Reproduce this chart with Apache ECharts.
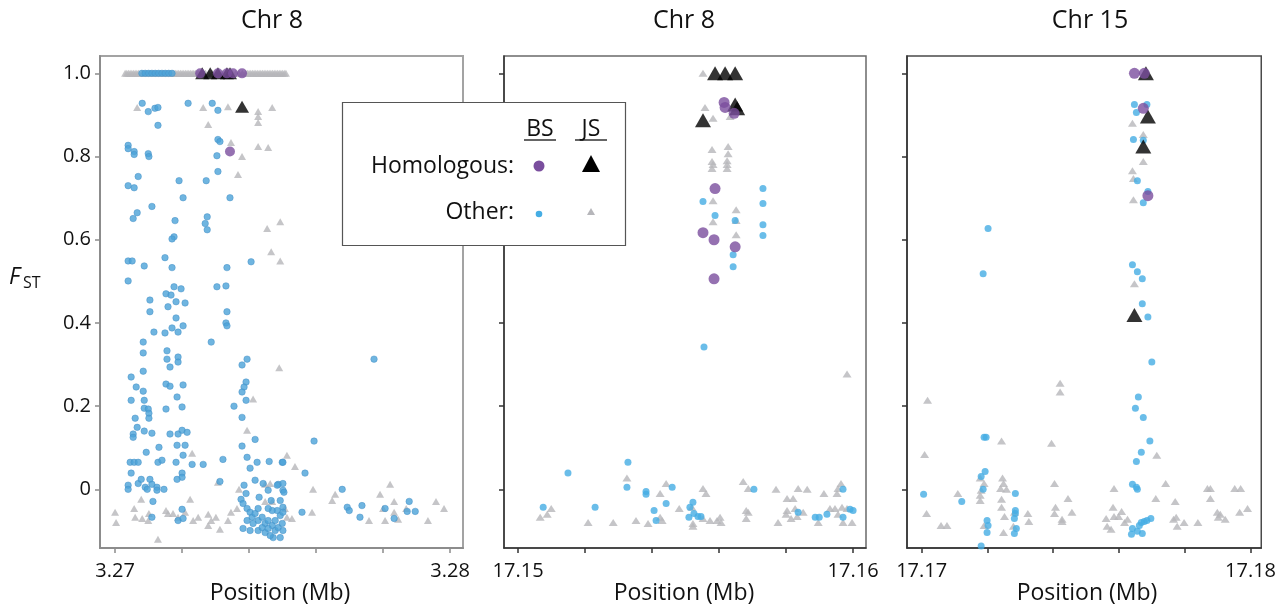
<!DOCTYPE html>
<html>
<head>
<meta charset="utf-8">
<script src="https://cdn.jsdelivr.net/npm/echarts@6/dist/echarts.min.js"></script>
<style>
html,body{margin:0;padding:0;background:#fff;}
#chart{width:1279px;height:608px;}
</style>
</head>
<body>
<div id="chart"></div>
<script>
// ---------- Titles & ticks ----------
const panelTitles = ['Chr 8', 'Chr 8', 'Chr 15'];
const xAxisName = 'Position (Mb)';
const yTicks = [0, 0.2, 0.4, 0.6, 0.8, 1.0];
const xTicks1 = [3.270, 3.272, 3.274, 3.276, 3.278, 3.280];
const xLabels1 = [3.27, 3.28];
const xTicks2 = [17.150, 17.152, 17.154, 17.156, 17.158, 17.160];
const xLabels2 = [17.15, 17.16];
const xTicks3 = [17.170, 17.172, 17.174, 17.176, 17.178, 17.180];
const xLabels3 = [17.17, 17.18];

// ---------- Panel 1 (Chr 8, 3.27 Mb) ----------
const p1BSOther = [
 [3.27080,1.0],[3.27090,1.0],[3.27100,1.0],[3.27110,1.0],[3.27120,1.0],[3.27130,1.0],[3.27140,1.0],[3.27150,1.0],[3.27160,1.0],[3.27170,1.0],
 [3.27081,0.928],[3.27099,0.908],[3.27119,0.916],[3.27128,0.918],[3.27128,0.875],[3.27218,0.928],[3.27290,0.928],[3.27307,0.911],
 [3.27307,0.841],[3.27313,0.836],[3.27039,0.827],[3.27039,0.819],[3.27057,0.812],[3.27057,0.805],[3.27099,0.807],[3.27101,0.800],
 [3.27304,0.802],[3.27307,0.764],[3.27069,0.752],[3.27039,0.730],[3.27057,0.725],[3.27191,0.742],[3.27272,0.742],[3.27203,0.701],
 [3.27343,0.701],[3.27110,0.680],[3.27066,0.665],[3.27054,0.651],[3.27179,0.646],[3.27275,0.655],[3.27269,0.639],[3.27275,0.624],
 [3.27176,0.607],[3.27170,0.602],[3.27039,0.549],[3.27051,0.549],[3.27087,0.537],[3.27149,0.557],[3.27170,0.533],[3.27334,0.533],
 [3.27406,0.547],[3.27039,0.501],[3.27176,0.487],[3.27197,0.482],[3.27304,0.487],[3.27331,0.489],[3.27152,0.470],[3.27167,0.467],
 [3.27104,0.455],[3.27182,0.451],[3.27209,0.448],
 [3.27158,0.439],[3.27104,0.427],[3.27182,0.412],[3.27203,0.393],[3.27170,0.388],[3.27188,0.378],[3.27149,0.376],[3.27116,0.378],
 [3.27334,0.427],[3.27331,0.400],[3.27334,0.393],[3.27287,0.354],[3.27084,0.354],[3.27084,0.328],[3.27155,0.333],[3.27155,0.313],
 [3.27188,0.318],[3.27188,0.306],[3.27164,0.294],[3.27084,0.284],[3.27048,0.270],[3.27379,0.299],[3.27394,0.313],[3.27063,0.246],
 [3.27084,0.236],[3.27152,0.253],[3.27164,0.248],[3.27203,0.251],[3.27185,0.222],[3.27200,0.198],[3.27048,0.214],[3.27087,0.214],
 [3.27087,0.195],[3.27099,0.193],[3.27101,0.183],[3.27152,0.193],[3.27391,0.258],[3.27385,0.246],[3.27379,0.234],[3.27391,0.214],
 [3.27355,0.200],[3.27379,0.173],[3.27060,0.171],[3.27101,0.171],[3.27066,0.149],[3.27087,0.140],[3.27110,0.135],[3.27054,0.133],
 [3.27054,0.125],[3.27164,0.133],[3.27188,0.133],[3.27200,0.142],[3.27215,0.137],[3.27379,0.104],[3.27418,0.120],[3.27131,0.101],
 [3.27185,0.106],[3.27209,0.106],[3.27093,0.089],[3.27203,0.082],[3.27045,0.065],[3.27057,0.065],[3.27069,0.065],[3.27128,0.065],
 [3.27140,0.070],[3.27182,0.065],[3.27230,0.060],[3.27263,0.060],[3.27322,0.072],[3.27394,0.077],[3.27424,0.065],[3.27403,0.051],
 [3.27460,0.067],[3.27499,0.065],[3.27048,0.039],[3.27200,0.039],[3.27200,0.029],[3.27185,0.024],[3.27313,0.019],[3.27039,0.010],
 [3.27039,0.000],[3.27069,0.014],[3.27078,0.024],[3.27090,0.005],[3.27104,0.024],[3.27110,0.012],[3.27096,0.000],[3.27125,0.005],
 [3.27125,-0.002],[3.27146,0.000],[3.27385,0.010],[3.27418,0.022],[3.27442,0.014],[3.27487,0.012],[3.27457,-0.002],[3.27501,-0.002],
 [3.27391,-0.010],[3.27376,-0.024],[3.27430,-0.019],[3.27466,-0.027],[3.27493,-0.027],[3.27113,-0.029],[3.27110,-0.067],[3.27200,-0.048],
 [3.27188,-0.075],[3.27203,-0.070],
 [3.27382,-0.034],[3.27394,-0.046],[3.27403,-0.055],[3.27409,-0.067],[3.27418,-0.058],[3.27427,-0.075],[3.27439,-0.067],[3.27448,-0.082],
 [3.27457,-0.075],[3.27469,-0.087],[3.27478,-0.099],[3.27487,-0.092],[3.27499,-0.082],[3.27484,-0.051],[3.27469,-0.051],[3.27382,-0.094],
 [3.27403,-0.099],[3.27427,-0.099],[3.27448,-0.104],[3.27472,-0.116],[3.27394,-0.075],[3.27412,-0.082],[3.27439,-0.092],[3.27457,-0.094],
 [3.27478,-0.075],[3.27493,-0.063],[3.27501,-0.043],[3.27457,-0.046],[3.27427,-0.046],[3.27463,-0.111],[3.27501,-0.099],[3.27493,-0.116],
 [3.27773,0.313],[3.27594,0.116],[3.27501,0.065],[3.27567,0.039],[3.27501,0.014],[3.27504,-0.007],[3.27484,0.010],[3.27678,0.000],
 [3.27693,-0.043],[3.27699,-0.051],[3.27737,-0.039],[3.27731,-0.067],[3.27806,-0.046],[3.27833,-0.070],[3.27872,-0.053],[3.27878,-0.029],
 [3.27896,-0.053],[3.27558,-0.055],[3.27501,-0.055]
];
const p1JSOther = [
 [3.2703,1.0],[3.27035,1.0],[3.2704,1.0],[3.27045,1.0],[3.2705,1.0],[3.27055,1.0],[3.2706,1.0],[3.27065,1.0],[3.2707,1.0],[3.2708,1.0],
 [3.2709,1.0],[3.2710,1.0],[3.2711,1.0],[3.2712,1.0],[3.2713,1.0],[3.2714,1.0],[3.2715,1.0],[3.2716,1.0],[3.2717,1.0],[3.27175,1.0],
 [3.2718,1.0],[3.27185,1.0],[3.2719,1.0],[3.27195,1.0],[3.2720,1.0],[3.27205,1.0],[3.2721,1.0],[3.27215,1.0],[3.2722,1.0],[3.27225,1.0],
 [3.2723,1.0],[3.27235,1.0],[3.2724,1.0],[3.27245,1.0],[3.2725,1.0],[3.2726,1.0],[3.2727,1.0],[3.2728,1.0],[3.2729,1.0],[3.2730,1.0],
 [3.2731,1.0],[3.2732,1.0],[3.2733,1.0],[3.2734,1.0],[3.2735,1.0],[3.2736,1.0],[3.2737,1.0],[3.2738,1.0],[3.2739,1.0],[3.27395,1.0],
 [3.2740,1.0],[3.27405,1.0],[3.2741,1.0],[3.27415,1.0],[3.2742,1.0],[3.27425,1.0],[3.2743,1.0],[3.27435,1.0],[3.2744,1.0],[3.27445,1.0],
 [3.2745,1.0],[3.27455,1.0],[3.2746,1.0],[3.27465,1.0],[3.2747,1.0],[3.27475,1.0],[3.2748,1.0],[3.27485,1.0],[3.2749,1.0],[3.27495,1.0],
 [3.2750,1.0],[3.27505,1.0],[3.2751,1.0],
 [3.27066,0.918],[3.27263,0.918],[3.27337,0.920],[3.27427,0.908],[3.27427,0.896],[3.27427,0.882],[3.27469,0.918],[3.27278,0.877],
 [3.27346,0.834],[3.27379,0.800],[3.27427,0.824],[3.27457,0.822],[3.27367,0.757],[3.27454,0.627],[3.27493,0.643],[3.27466,0.571],
 [3.27493,0.549],[3.27490,0.292],[3.27412,0.217],[3.27394,0.142],[3.27230,0.087],[3.27307,0.017],[3.27370,0.000],[3.27448,0.012],
 [3.27463,0.014],[3.27078,-0.024],[3.27224,-0.024],[3.27448,-0.029],[3.27469,-0.029],[3.27000,-0.055],[3.27003,-0.080],[3.27057,-0.046],
 [3.27060,-0.067],[3.27081,-0.070],[3.27099,-0.075],[3.27101,-0.058],[3.27152,-0.051],[3.27158,-0.058],[3.27173,-0.058],[3.27188,-0.067],
 [3.27209,-0.055],[3.27233,-0.075],[3.27248,-0.067],[3.27278,-0.060],[3.27287,-0.075],[3.27301,-0.067],[3.27313,-0.096],[3.27337,-0.075],
 [3.27346,-0.055],[3.27364,-0.046],[3.27278,-0.087],[3.27128,-0.120],[3.27513,0.082],[3.27537,0.055],[3.27591,0.000],[3.27648,-0.027],
 [3.27657,-0.012],[3.27821,0.012],[3.27791,-0.012],[3.27833,-0.029],[3.27800,-0.046],[3.27758,-0.075],[3.27806,-0.075],[3.27845,-0.072],
 [3.27833,-0.055],[3.27869,-0.046],[3.27958,-0.029],[3.27982,-0.046],[3.27934,-0.075],[3.27588,-0.055],[3.27513,-0.067],[3.27528,-0.070],
 [3.27507,-0.046]
];
const p1BSHomologous = [[3.27254,1.0],[3.27307,1.0],[3.27334,1.0],[3.27352,1.0],[3.27379,1.0],[3.27343,0.812]];
const p1JSHomologous = [[3.27260,1.0],[3.27284,1.0],[3.27307,1.0],[3.27334,1.0],[3.27343,1.0],[3.27379,0.920]];

// ---------- Panel 2 (Chr 8, 17.15 Mb) ----------
const p2BSOther = [
 [17.15552,0.692],[17.15588,0.658],[17.15648,0.646],[17.15642,0.564],[17.15642,0.535],[17.15731,0.723],[17.15731,0.687],[17.15731,0.636],
 [17.15731,0.610],[17.15555,0.342],[17.15328,0.065],[17.15149,0.039],[17.15325,0.005],[17.15382,-0.005],[17.15382,-0.012],[17.15460,0.005],
 [17.15075,-0.043],[17.15230,-0.043],[17.15442,-0.034],[17.15406,-0.051],[17.15412,-0.075],[17.15522,-0.031],[17.15513,-0.043],[17.15510,-0.067],
 [17.15525,-0.058],[17.15537,-0.065],[17.15546,-0.065],[17.15704,0.000],[17.15970,0.000],[17.15836,-0.055],[17.15887,-0.067],[17.15899,-0.067],
 [17.15922,-0.060],[17.15970,-0.067],[17.15991,-0.048],[17.16000,-0.051]
];
const p2JSOther = [
 [17.15552,1.0],[17.15558,0.918],[17.15582,0.892],[17.15633,0.896],[17.15579,0.817],[17.15579,0.788],[17.15579,0.771],[17.15582,0.781],
 [17.15627,0.824],[17.15627,0.807],[17.15624,0.790],[17.15624,0.771],[17.15624,0.781],[17.15582,0.694],[17.15582,0.643],[17.15651,0.672],
 [17.15651,0.646],[17.15651,0.612],[17.15982,0.277],[17.15066,-0.067],[17.15087,-0.060],[17.15099,-0.046],[17.15209,-0.080],[17.15284,-0.080],
 [17.15325,0.027],[17.15352,-0.075],[17.15388,-0.082],[17.15424,-0.010],[17.15442,0.014],[17.15424,-0.067],[17.15430,-0.075],[17.15481,-0.046],
 [17.15519,-0.043],[17.15522,-0.082],[17.15522,-0.089],[17.15552,0.002],[17.15561,-0.010],[17.15552,-0.070],[17.15573,-0.075],[17.15594,-0.075],
 [17.15603,-0.067],[17.15606,-0.080],[17.15672,0.019],[17.15687,0.002],[17.15681,-0.051],[17.15687,-0.055],[17.15681,-0.070],[17.15770,0.000],
 [17.15776,-0.080],[17.15803,-0.022],[17.15821,-0.022],[17.15803,-0.051],[17.15800,-0.060],[17.15815,-0.070],[17.15827,-0.046],[17.15833,-0.065],
 [17.15836,0.002],[17.15851,-0.055],[17.15863,0.000],[17.15896,-0.080],[17.15913,-0.010],[17.15931,-0.046],[17.15946,-0.046],[17.15952,-0.010],
 [17.15955,0.002],[17.15964,0.014],[17.15967,-0.043],[17.15955,-0.060],[17.15970,-0.080],[17.15982,-0.046],[17.15997,-0.080]
];
const p2BSHomologous = [[17.15615,0.930],[17.15618,0.918],[17.15645,0.904],[17.15588,0.723],[17.15552,0.617],[17.15585,0.600],[17.15648,0.583],[17.15585,0.506]];
const p2JSHomologous = [[17.15588,1.0],[17.15618,1.0],[17.15648,1.0],[17.15648,0.925],[17.15654,0.916],[17.15552,0.887]];

// ---------- Panel 3 (Chr 15, 17.17 Mb) ----------
const p3BSOther = [
 [17.17647,0.925],[17.17685,0.925],[17.17653,0.906],[17.17644,0.841],[17.17674,0.839],[17.17656,0.742],[17.17688,0.716],[17.17674,0.689],
 [17.17202,0.627],[17.17187,0.518],[17.17641,0.540],[17.17656,0.523],[17.17671,0.506],[17.17671,0.446],[17.17688,0.414],[17.17700,0.306],
 [17.17659,0.222],[17.17650,0.195],[17.17674,0.173],[17.17694,0.116],[17.17668,0.089],[17.17653,0.067],[17.17641,0.012],[17.17653,0.005],
 [17.17656,0.000],[17.17697,-0.070],[17.17685,-0.075],[17.17677,-0.077],[17.17668,-0.080],[17.17662,-0.087],[17.17641,-0.094],[17.17638,-0.108],
 [17.17656,-0.101],[17.17671,-0.106],[17.17190,0.125],[17.17196,0.125],[17.17193,0.043],[17.17181,0.031],[17.17187,0.000],[17.17006,-0.012],
 [17.17122,-0.029],[17.17285,-0.010],[17.17285,-0.051],[17.17282,-0.070],[17.17199,-0.075],[17.17202,-0.087],[17.17199,-0.104],[17.17288,-0.094],
 [17.17282,-0.106],[17.17181,-0.136],[17.17285,-0.058]
];
const p3JSOther = [
 [17.17641,0.880],[17.17674,0.853],[17.17674,0.788],[17.17641,0.766],[17.17644,0.747],[17.17644,0.696],[17.17647,0.494],[17.17018,0.214],
 [17.17009,0.084],[17.17015,-0.058],[17.17059,-0.087],[17.17077,-0.087],[17.17110,-0.010],[17.17178,0.027],[17.17190,0.014],[17.17181,-0.002],
 [17.17178,-0.014],[17.17178,-0.027],[17.17190,-0.087],[17.17243,0.116],[17.17246,0.027],[17.17249,0.014],[17.17240,0.002],[17.17258,0.000],
 [17.17243,-0.024],[17.17243,-0.043],[17.17252,-0.065],[17.17282,-0.055],[17.17279,-0.089],[17.17249,-0.104],[17.17323,-0.058],[17.17326,-0.077],
 [17.17395,0.111],[17.17404,0.014],[17.17421,0.255],[17.17421,0.234],[17.17407,-0.043],[17.17404,-0.058],[17.17427,-0.072],[17.17427,-0.077],
 [17.17445,-0.022],[17.17457,-0.055],[17.17561,-0.070],[17.17564,-0.089],[17.17576,-0.096],[17.17582,-0.043],[17.17585,-0.065],[17.17585,0.002],
 [17.17608,-0.053],[17.17599,-0.065],[17.17617,-0.080],[17.17626,-0.072],[17.17715,0.082],[17.17712,-0.022],[17.17742,0.014],[17.17771,-0.029],
 [17.17766,-0.072],[17.17774,-0.067],[17.17777,-0.089],[17.17798,-0.080],[17.17840,-0.080],[17.17869,0.002],[17.17878,0.002],[17.17878,-0.022],
 [17.17899,-0.055],[17.17902,-0.067],[17.17908,-0.060],[17.17923,-0.072],[17.17952,0.002],[17.17970,0.002],[17.17967,-0.055],[17.17991,-0.046]
];
const p3BSHomologous = [[17.17647,1.0],[17.17677,1.0],[17.17674,0.916],[17.17688,0.706]];
const p3JSHomologous = [[17.17682,1.0],[17.17688,0.896],[17.17674,0.824],[17.17647,0.419]];

// ---------- Legend text ----------
const legendCols = ['BS', 'JS'];
const legendRows = ['Homologous:', 'Other:'];
const yAxisLabelMain = 'F';
const yAxisLabelSub = 'ST';

// ---------- Build chart ----------
const FONT = '"Open Sans", "Noto Sans", sans-serif';
const COL = {blue: '#45ADE4', blue1: '#4BA2D8', grey: '#B6B6BA', purple: '#7A4E9E', black: '#000000'};

const grids = [
  {left: 100, top: 56, width: 363, height: 492, show: true, borderColor: '#a3a3a3', borderWidth: 2, backgroundColor: 'transparent'},
  {left: 504, top: 56, width: 362, height: 492, show: true, borderColor: '#6a6a6a', borderWidth: 1.5, backgroundColor: 'transparent'},
  {left: 907, top: 56, width: 363, height: 492, show: true, borderColor: '#4a4a4a', borderWidth: 1.5, backgroundColor: 'transparent'}
];
const xRanges = [[3.26955, 3.280386], [17.14958, 17.160386], [17.169555, 17.180327]];
const xTickSets = [xTicks1, xTicks2, xTicks3];
const xLabelSets = [xLabels1, xLabels2, xLabels3];
const axisColors = ['#8c8c8c', '#333333', '#333333'];

const xAxes = xRanges.map((r, i) => ({
  type: 'value', gridIndex: i, min: r[0], max: r[1],
  axisLine: {show: true, onZero: false, lineStyle: {color: axisColors[i], width: i === 0 ? 2 : 1.5}},
  axisTick: {show: true, inside: false, length: 5, customValues: xTickSets[i], lineStyle: {color: axisColors[i], width: 1.5}},
  axisLabel: {show: true, customValues: xLabelSets[i], formatter: v => v.toFixed(2), margin: 13,
              fontSize: 20, fontFamily: FONT, color: '#111'},
  splitLine: {show: false}
}));
const yAxes = [0, 1, 2].map(i => ({
  type: 'value', gridIndex: i, min: -0.141, max: 1.0417,
  axisLine: {show: true, onZero: false, lineStyle: {color: axisColors[i], width: i === 0 ? 2 : 1.5}},
  axisTick: {show: true, inside: false, length: 5, customValues: yTicks, lineStyle: {color: axisColors[i], width: 1.5}},
  axisLabel: {show: i === 0, customValues: yTicks, formatter: v => (v === 0 ? '0' : v.toFixed(1)), margin: 9,
              fontSize: 20, fontFamily: FONT, color: '#111'},
  splitLine: {show: false}
}));

function sc(data, idx, symbol, size, color, z, border) {
  return {
    type: 'scatter', xAxisIndex: idx, yAxisIndex: idx, data: data,
    symbol: symbol, symbolSize: size, z: z, silent: true, animation: false,
    itemStyle: border ? {color: color, borderColor: border, borderWidth: 0.6} : {color: color}
  };
}
const series = [
  sc(p1JSOther, 0, 'triangle', [8, 7], COL.grey, 2),
  sc(p1BSOther, 0, 'circle', 6.5, COL.blue1, 3, '#4590c6'),
  sc(p1JSHomologous, 0, 'triangle', [14, 12], COL.black, 4),
  sc(p1BSHomologous, 0, 'circle', 10, COL.purple, 5),
  sc(p2JSOther, 1, 'triangle', [9, 7], COL.grey, 2),
  sc(p2BSOther, 1, 'circle', 7, COL.blue, 3),
  sc(p2JSHomologous, 1, 'triangle', [16, 14], COL.black, 4),
  sc(p2BSHomologous, 1, 'circle', 11, COL.purple, 5),
  sc(p3JSOther, 2, 'triangle', [9, 7], COL.grey, 2),
  sc(p3BSOther, 2, 'circle', 7, COL.blue, 3),
  sc(p3JSHomologous, 2, 'triangle', [16, 14], COL.black, 4),
  sc(p3BSHomologous, 2, 'circle', 11, COL.purple, 5)
];

const titleX = [272, 684, 1090];
const graphics = [];
titleX.forEach((x, i) => {
  graphics.push({type: 'text', x: x, y: 21, z: 50,
    style: {text: panelTitles[i], align: 'center', verticalAlign: 'middle', fontSize: 25, fontFamily: FONT, fill: '#111'}});
  graphics.push({type: 'text', x: [280, 684, 1087][i], y: 593, z: 50,
    style: {text: xAxisName, align: 'center', verticalAlign: 'middle', fontSize: 23, fontFamily: FONT, fill: '#111'}});
});
graphics.push({type: 'text', x: 9, y: 277, z: 50,
  style: {text: yAxisLabelMain, align: 'left', verticalAlign: 'middle', fontSize: 23, fontStyle: 'italic', fontFamily: FONT, fill: '#111'}});
graphics.push({type: 'text', x: 23, y: 283, z: 50,
  style: {text: yAxisLabelSub, align: 'left', verticalAlign: 'middle', fontSize: 16, fontFamily: FONT, fill: '#111'}});

// legend box
graphics.push({type: 'rect', z: 100, shape: {x: 342.5, y: 102.5, width: 283, height: 143},
  style: {fill: '#fff', stroke: '#555', lineWidth: 1.2}});
const colX = [540, 591];
legendCols.forEach((t, i) => {
  graphics.push({type: 'text', x: colX[i], y: 129, z: 101,
    style: {text: t, align: 'center', verticalAlign: 'middle', fontSize: 23, fontFamily: FONT, fill: '#111'}});
  graphics.push({type: 'line', z: 101, shape: {x1: colX[i] - 16, y1: 140, x2: colX[i] + 16, y2: 140},
    style: {stroke: '#111', lineWidth: 1.3}});
});
[166, 212].forEach((y, i) => {
  graphics.push({type: 'text', x: 514, y: y, z: 101,
    style: {text: legendRows[i], align: 'right', verticalAlign: 'middle', fontSize: 23, fontFamily: FONT, fill: '#111'}});
});
graphics.push({type: 'circle', z: 101, shape: {cx: 539, cy: 166, r: 5.5}, style: {fill: COL.purple}});
graphics.push({type: 'polygon', z: 101, shape: {points: [[591, 155], [582, 172], [600, 172]]}, style: {fill: COL.black}});
graphics.push({type: 'circle', z: 101, shape: {cx: 539, cy: 214, r: 3.3}, style: {fill: COL.blue}});
graphics.push({type: 'polygon', z: 101, shape: {points: [[591, 208], [587, 215], [595, 215]]}, style: {fill: COL.grey}});

const chart = echarts.init(document.getElementById('chart'), null, {renderer: 'canvas'});
chart.setOption({
  backgroundColor: '#ffffff',
  animation: false,
  grid: grids,
  xAxis: xAxes,
  yAxis: yAxes,
  series: series,
  graphic: graphics
});
</script>
</body>
</html>
